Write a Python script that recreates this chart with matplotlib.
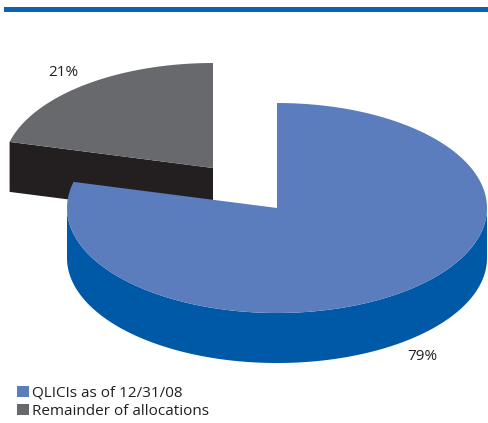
import numpy as np
import matplotlib.pyplot as plt
from matplotlib.patches import Polygon, Patch

# Allocation shares (percent)
values = [79, 21]
labels = ['QLICIs as of 12/31/08', 'Remainder of allocations']
pct_labels = ['79%', '21%']
top_colors = ['#5b7dbd', '#68696d']
side_colors = ['#0059a7', '#231f20']

plt.rcParams['font.family'] = ['Open Sans', 'DejaVu Sans']

fig = plt.figure(figsize=(4.89, 4.23), dpi=100)
ax = fig.add_axes([0, 0, 1, 1])
ax.set_xlim(0, 489)
ax.set_ylim(423, 0)
ax.axis('off')

# header rule
ax.fill_between([4, 489], 7, 12.5, color='#0b63af', lw=0)

# ellipse geometry of the pie (pixel space, y grows downward)
cx, cy = 277, 208
a, b = 210, 105
depth = 50
offsets = [(0, 0), (-64, -40)]


def rim(theta, ox, oy):
    return np.column_stack([cx + ox + a * np.cos(theta), cy + oy - b * np.sin(theta)])


total = sum(values)
start = np.pi / 2
# slices go clockwise from 12 o'clock
spans = []
for v in values:
    sweep = 2 * np.pi * v / total
    spans.append((start - sweep, start))
    start -= sweep

# back slice first
for i in [1, 0]:
    t0, t1 = spans[i]
    ox, oy = offsets[i]
    c = np.array([cx + ox, cy + oy])
    th = np.linspace(t0, t1, 300)
    # front outer wall (part facing the viewer)
    lo, hi = max(t0, -np.pi), min(t1, 0)
    if lo < hi:
        tw = np.linspace(lo, hi, 300)
        r = rim(tw, ox, oy)
        wall = np.vstack([r, (r + [0, depth])[::-1]])
        ax.add_patch(Polygon(wall, closed=True, fc=side_colors[i], ec='none'))
    # radial wall on the cut edge facing the viewer
    if i == 1:
        p = rim(np.array([t1]), ox, oy)[0]
        face = np.array([c, p, p + [0, depth], c + [0, depth]])
        ax.add_patch(Polygon(face, closed=True, fc=side_colors[i], ec='none'))
    top = np.vstack([c, rim(th, ox, oy)])
    ax.add_patch(Polygon(top, closed=True, fc=top_colors[i], ec='none'))

ax.text(422, 356, pct_labels[0], fontsize=11, color='#231f20', ha='center', va='center')
ax.text(63, 72, pct_labels[1], fontsize=11, color='#231f20', ha='center', va='center')

handles = [Patch(fc=top_colors[0], ec='none'), Patch(fc=top_colors[1], ec='none')]
fig.legend(handles, labels, loc='lower left', bbox_to_anchor=(0.015, -0.012),
           frameon=False, fontsize=11, handlelength=0.8, handleheight=0.8,
           handletextpad=0.2, labelspacing=0.2, borderaxespad=0.2,
           labelcolor='#231f20')

fig.savefig('out.png', dpi=100)
